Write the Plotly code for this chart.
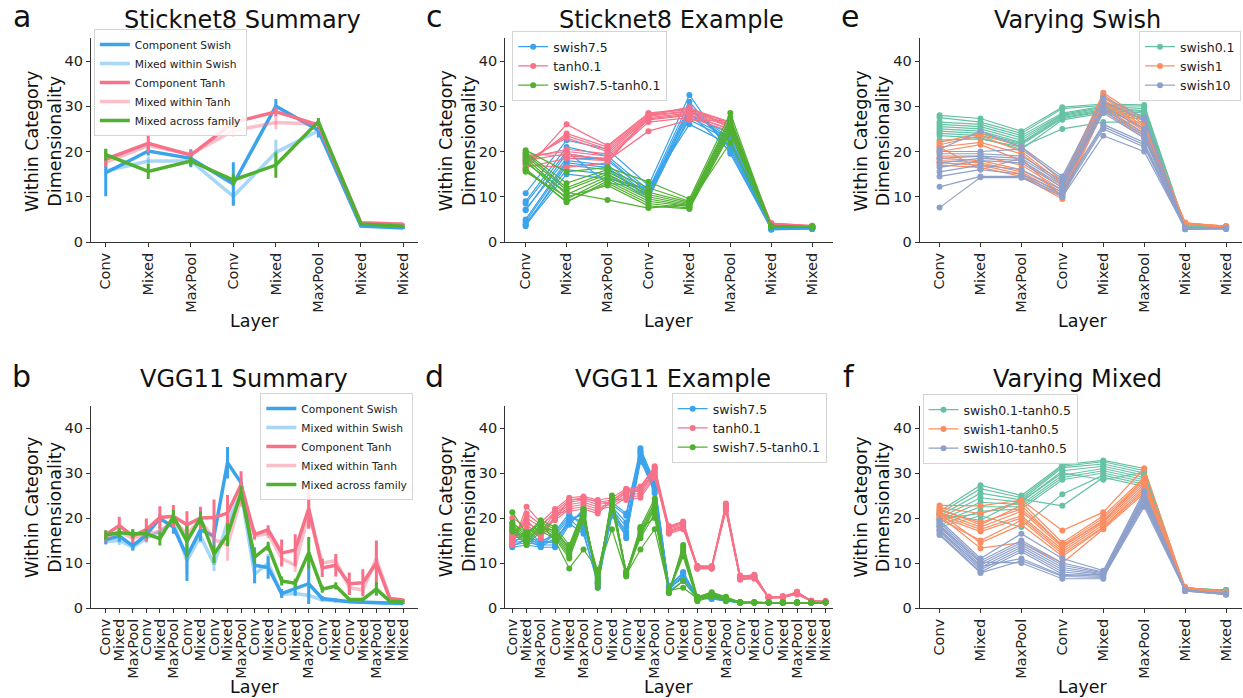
import plotly.graph_objects as go

W, H = 1243, 698          # reference picture size (all positions below are in these pixels)
FIG_H = 706               # figure height compensating for the capture's vertical scaling
FONT = "DejaVu Sans"

# ---------------- categories ----------------
layers_s8 = ["Conv", "Mixed", "MaxPool", "Conv", "Mixed", "MaxPool", "Mixed", "Mixed"]
layers_vgg = ["Conv", "Mixed", "MaxPool", "Conv", "Mixed", "MaxPool", "Conv", "Mixed",
              "Conv", "Mixed", "MaxPool", "Conv", "Mixed", "Conv", "Mixed", "MaxPool",
              "Conv", "Mixed", "Conv", "Mixed", "MaxPool", "Mixed", "Mixed"]

summary_names = ["Component Swish", "Mixed within Swish", "Component Tanh",
                 "Mixed within Tanh", "Mixed across family"]

# ---------------- panel a: Sticknet8 summary (mean, error) ----------------
a_comp_swish = [15.3, 20.1, 18.5, 12.8, 30.0, 24.7, 3.5, 3.1]
a_comp_swish_err = [5.2, 1.0, 2.0, 4.8, 1.6, 1.6, 0.2, 0.2]
a_mix_swish = [15.7, 17.9, 17.9, 10.1, 19.8, 24.6, 3.7, 3.3]
a_mix_swish_err = [1.0, 1.0, 1.0, 2.0, 2.8, 1.0, 0.2, 0.2]
a_comp_tanh = [18.3, 21.8, 19.2, 26.4, 28.8, 25.9, 4.2, 3.9]
a_comp_tanh_err = [1.5, 2.0, 1.0, 1.3, 1.0, 0.5, 0.2, 0.2]
a_mix_tanh = [17.6, 21.3, 19.4, 24.6, 26.4, 26.1, 4.3, 3.9]
a_mix_tanh_err = [1.0, 1.0, 0.5, 1.3, 1.5, 0.5, 0.2, 0.2]
a_mix_across = [19.3, 15.6, 17.9, 13.7, 17.0, 26.6, 4.0, 3.5]
a_mix_across_err = [1.3, 1.7, 1.0, 1.3, 2.8, 0.8, 0.2, 0.2]

# ---------------- panel b: VGG11 summary (mean, error) ----------------
b_comp_swish = [15.2, 16.0, 13.8, 16.3, 19.9, 18.0, 11.5, 17.4, 16.0, 32.3, 27.8, 9.5,
                9.0, 3.2, 4.3, 5.4, 2.1, 1.7, 1.4, 1.3, 1.2, 1.1, 1.0]
b_comp_swish_err = [1.0, 1.2, 1.0, 1.5, 1.0, 1.5, 5.5, 2.5, 2.0, 3.5, 1.0, 4.0,
                    2.5, 1.0, 1.5, 4.5, 0.5, 0.4, 0.3, 0.2, 0.2, 0.1, 0.1]
b_mix_swish = [14.8, 15.0, 13.5, 15.5, 17.0, 19.0, 10.5, 16.0, 9.7, 19.0, 25.5, 7.5,
               10.0, 3.0, 3.2, 2.8, 1.8, 1.6, 1.4, 1.3, 1.2, 1.1, 1.0]
b_mix_swish_err = [0.8, 1.0, 0.8, 1.0, 1.0, 1.0, 3.0, 1.5, 1.5, 3.0, 1.0, 2.0,
                   2.0, 0.6, 0.6, 0.6, 0.3, 0.3, 0.2, 0.2, 0.2, 0.1, 0.1]
b_comp_tanh = [16.3, 18.3, 16.0, 17.4, 20.1, 20.4, 18.5, 20.0, 20.1, 21.1, 27.4, 16.3,
               17.4, 12.2, 12.9, 22.1, 8.9, 9.5, 5.4, 5.6, 10.0, 2.1, 1.8]
b_comp_tanh_err = [1.0, 2.0, 1.5, 2.5, 2.5, 2.5, 3.0, 2.5, 4.0, 4.0, 3.0, 1.0,
                   1.0, 3.0, 3.5, 4.5, 2.0, 2.5, 2.5, 3.0, 5.0, 0.3, 0.2]
b_mix_tanh = [15.5, 17.0, 15.5, 16.5, 17.0, 19.5, 16.5, 19.5, 15.2, 14.0, 24.5, 16.0,
              16.5, 11.0, 9.5, 21.0, 10.0, 10.5, 4.5, 4.0, 11.0, 2.0, 1.7]
b_mix_tanh_err = [1.0, 1.0, 1.0, 1.0, 1.5, 1.5, 2.0, 1.5, 2.0, 3.5, 2.0, 1.0,
                  1.0, 1.5, 1.5, 3.0, 1.0, 1.0, 1.0, 1.0, 3.0, 0.3, 0.2]
b_mix_across = [16.2, 16.7, 16.5, 16.5, 15.4, 20.3, 14.8, 20.0, 12.0, 16.3, 25.6, 11.3,
                13.7, 6.0, 5.5, 12.3, 4.2, 4.9, 1.9, 1.9, 4.2, 1.5, 1.4]
b_mix_across_err = [1.0, 1.0, 1.0, 1.0, 1.5, 1.5, 3.5, 1.5, 2.0, 2.5, 1.5, 1.5,
                    1.0, 1.0, 1.0, 3.5, 0.8, 0.8, 0.4, 0.4, 1.5, 0.2, 0.2]

# ---------------- panel c: Sticknet8 example ----------------
c_swish = [
    [10.8, 22.5, 20.5, 12.5, 32.5, 19.5, 3.0, 3.0],
    [9.0, 21.0, 19.0, 11.5, 31.0, 20.5, 2.8, 3.1],
    [7.0, 19.5, 18.0, 11.0, 30.0, 21.0, 3.1, 2.9],
    [5.0, 18.0, 17.0, 10.5, 29.5, 22.0, 2.9, 3.0],
    [3.5, 17.0, 16.0, 10.0, 29.0, 23.0, 3.0, 3.2],
    [4.0, 16.0, 15.0, 9.5, 28.0, 24.0, 2.7, 2.9],
    [3.8, 15.0, 14.0, 11.8, 27.0, 22.5, 3.2, 3.0],
    [8.5, 20.0, 13.0, 12.0, 26.0, 21.5, 3.0, 3.1],
    [7.2, 18.5, 18.5, 10.8, 28.5, 20.0, 2.8, 2.9],
    [4.5, 17.5, 16.5, 10.0, 27.5, 23.0, 2.9, 3.0],
]
c_tanh = [
    [16.0, 26.0, 21.3, 28.5, 29.5, 26.5, 4.0, 3.5],
    [17.0, 24.0, 21.0, 28.3, 29.3, 26.3, 3.8, 3.4],
    [17.5, 23.5, 20.5, 28.0, 29.0, 26.0, 3.9, 3.5],
    [18.0, 23.0, 20.0, 27.8, 28.8, 25.8, 4.1, 3.6],
    [18.5, 20.5, 19.5, 27.5, 28.5, 25.5, 3.8, 3.4],
    [19.0, 20.0, 19.0, 27.0, 28.0, 25.0, 4.0, 3.5],
    [19.5, 19.0, 18.5, 26.5, 27.5, 24.5, 3.9, 3.4],
    [16.5, 18.5, 18.0, 24.5, 27.0, 26.8, 4.2, 3.6],
    [17.0, 16.5, 17.5, 28.0, 29.8, 25.2, 3.8, 3.5],
    [18.0, 19.5, 18.2, 27.2, 28.2, 24.8, 4.0, 3.4],
]
c_mixed = [
    [20.3, 15.5, 16.5, 13.3, 9.5, 28.5, 3.5, 3.3],
    [19.8, 13.0, 16.0, 12.0, 9.0, 27.5, 3.4, 3.2],
    [19.5, 12.0, 15.5, 11.0, 8.8, 27.0, 3.6, 3.4],
    [19.0, 11.5, 15.0, 10.5, 8.5, 26.5, 3.5, 3.3],
    [18.5, 10.5, 14.5, 10.0, 8.2, 26.0, 3.3, 3.2],
    [18.0, 9.5, 14.0, 9.5, 8.0, 25.5, 3.5, 3.4],
    [16.2, 8.8, 13.5, 9.0, 7.8, 25.0, 3.6, 3.3],
    [15.8, 9.0, 13.0, 8.5, 7.5, 24.5, 3.4, 3.2],
    [15.5, 10.0, 12.5, 8.0, 7.3, 24.0, 3.5, 3.3],
    [17.5, 11.0, 9.3, 7.5, 8.3, 22.0, 3.4, 3.4],
]

# ---------------- panel d: VGG11 example ----------------
d_swish = [
    [13.5, 14.0, 13.5, 13.5, 18.5, 22.0, 4.5, 23.5, 21.0, 35.5, 28.0, 4.5, 8.0, 2.2, 2.0, 1.6, 1.2, 1.2, 1.2, 1.2, 1.2, 1.2, 1.2],
    [14.0, 14.5, 14.0, 14.0, 19.0, 21.5, 5.0, 23.0, 20.5, 35.0, 27.5, 4.0, 7.5, 2.3, 2.2, 1.7, 1.3, 1.2, 1.2, 1.2, 1.2, 1.2, 1.2],
    [14.5, 15.0, 14.5, 15.0, 19.5, 21.0, 5.5, 22.5, 19.0, 34.5, 27.0, 4.2, 7.0, 2.1, 2.4, 1.8, 1.2, 1.3, 1.2, 1.2, 1.2, 1.2, 1.2],
    [15.0, 15.5, 15.0, 16.0, 20.0, 20.5, 6.0, 22.0, 18.0, 34.0, 26.5, 4.8, 6.5, 2.4, 2.1, 1.5, 1.2, 1.2, 1.2, 1.2, 1.2, 1.2, 1.2],
    [15.5, 16.0, 13.8, 16.5, 20.5, 19.0, 6.5, 21.5, 17.0, 33.5, 26.0, 3.8, 6.0, 2.0, 2.3, 1.6, 1.3, 1.2, 1.2, 1.2, 1.2, 1.2, 1.2],
    [16.0, 16.5, 14.2, 17.0, 21.0, 18.0, 7.0, 21.0, 16.5, 33.0, 25.5, 5.0, 7.8, 2.5, 2.5, 1.7, 1.2, 1.2, 1.2, 1.2, 1.2, 1.2, 1.2],
    [14.2, 17.0, 14.8, 14.5, 19.8, 17.0, 5.2, 20.5, 16.0, 32.5, 27.2, 4.4, 7.2, 2.2, 2.0, 1.8, 1.2, 1.2, 1.2, 1.2, 1.2, 1.2, 1.2],
    [13.8, 15.2, 13.6, 15.5, 18.8, 16.5, 5.8, 22.8, 15.5, 34.8, 26.2, 4.6, 6.8, 2.3, 2.2, 1.6, 1.3, 1.2, 1.2, 1.2, 1.2, 1.2, 1.2],
]
d_tanh = [
    [14.0, 22.5, 19.0, 22.0, 24.5, 24.8, 24.0, 24.5, 26.5, 27.0, 31.5, 18.0, 19.0, 9.2, 9.2, 23.0, 7.0, 7.4, 2.4, 2.5, 3.6, 1.6, 1.5],
    [15.0, 20.0, 18.0, 21.5, 24.0, 24.5, 23.5, 24.0, 26.0, 26.5, 31.0, 17.5, 18.5, 9.0, 9.0, 22.5, 6.8, 7.2, 2.3, 2.4, 3.4, 1.5, 1.4],
    [16.0, 19.0, 17.0, 21.0, 23.5, 24.0, 23.0, 23.5, 25.5, 26.0, 30.5, 17.0, 18.0, 8.8, 8.8, 22.0, 6.5, 6.8, 2.2, 2.3, 3.2, 1.6, 1.5],
    [17.0, 18.5, 16.0, 20.5, 23.0, 23.5, 22.5, 23.0, 25.0, 25.5, 30.0, 16.5, 17.5, 9.4, 9.3, 21.5, 6.3, 6.5, 2.5, 2.6, 3.0, 1.5, 1.4],
    [20.0, 18.0, 15.5, 20.0, 22.5, 23.0, 22.0, 22.5, 24.5, 25.0, 29.5, 17.8, 18.8, 8.9, 8.9, 22.8, 7.2, 7.0, 2.3, 2.4, 3.5, 1.6, 1.5],
    [15.5, 17.0, 17.5, 19.5, 22.0, 22.5, 21.5, 24.2, 24.0, 24.5, 29.0, 17.2, 18.2, 9.1, 9.1, 22.2, 6.6, 6.9, 2.4, 2.5, 3.3, 1.5, 1.4],
    [14.5, 21.0, 18.5, 21.0, 21.5, 22.0, 21.0, 23.8, 26.2, 26.8, 31.2, 16.8, 17.8, 8.7, 8.7, 21.8, 6.4, 6.6, 2.2, 2.3, 3.1, 1.6, 1.5],
    [16.5, 19.5, 16.5, 20.0, 24.0, 24.2, 23.8, 23.2, 25.8, 26.2, 30.2, 18.2, 19.2, 9.3, 9.2, 23.2, 7.1, 7.3, 2.5, 2.6, 3.6, 1.5, 1.4],
]
d_mixed = [
    [21.3, 16.5, 19.5, 18.0, 14.0, 22.0, 5.5, 25.0, 7.5, 18.0, 24.3, 3.5, 14.0, 2.5, 3.5, 2.5, 1.3, 1.2, 1.2, 1.2, 1.2, 1.2, 1.2],
    [19.0, 16.0, 19.0, 17.5, 13.0, 21.5, 6.0, 24.5, 7.2, 17.5, 23.5, 3.3, 13.5, 2.2, 3.2, 2.2, 1.2, 1.2, 1.2, 1.2, 1.2, 1.2, 1.2],
    [18.5, 15.5, 18.5, 17.0, 12.5, 21.0, 6.5, 24.0, 7.8, 17.0, 23.0, 3.8, 12.5, 2.0, 3.0, 2.0, 1.3, 1.2, 1.2, 1.2, 1.2, 1.2, 1.2],
    [18.0, 15.0, 18.0, 16.5, 12.0, 20.5, 7.0, 23.5, 8.0, 16.5, 22.5, 4.0, 12.0, 1.8, 2.8, 1.8, 1.2, 1.2, 1.2, 1.2, 1.2, 1.2, 1.2],
    [17.5, 14.5, 17.5, 16.0, 11.5, 20.0, 7.5, 23.0, 7.0, 16.0, 22.0, 3.6, 11.5, 1.5, 2.5, 1.6, 1.3, 1.2, 1.2, 1.2, 1.2, 1.2, 1.2],
    [17.0, 14.0, 17.0, 15.5, 11.0, 19.5, 8.0, 22.0, 8.2, 15.5, 21.0, 3.4, 6.0, 2.4, 3.3, 2.4, 1.2, 1.2, 1.2, 1.2, 1.2, 1.2, 1.2],
    [18.8, 16.8, 18.8, 15.0, 8.8, 13.0, 8.5, 17.5, 7.4, 13.0, 17.5, 3.9, 4.5, 2.1, 2.9, 2.1, 1.3, 1.2, 1.2, 1.2, 1.2, 1.2, 1.2],
    [17.8, 15.2, 17.8, 17.2, 13.5, 21.8, 4.5, 24.2, 7.6, 17.7, 20.0, 3.7, 13.0, 1.9, 2.6, 1.9, 1.2, 1.2, 1.2, 1.2, 1.2, 1.2, 1.2],
]

# ---------------- panel e: varying swish ----------------
e_swish01 = [
    [28.0, 27.3, 24.5, 29.8, 30.5, 30.3, 3.5, 3.2],
    [27.5, 26.5, 24.0, 29.5, 30.2, 30.0, 3.4, 3.1],
    [26.5, 26.0, 23.5, 28.5, 30.0, 29.5, 3.3, 3.3],
    [26.0, 25.5, 23.0, 28.2, 29.8, 29.0, 3.5, 3.2],
    [25.5, 25.0, 22.5, 28.0, 29.5, 28.8, 3.6, 3.1],
    [25.0, 24.5, 22.0, 27.8, 29.2, 28.5, 3.4, 3.2],
    [24.5, 24.0, 21.8, 27.5, 29.0, 28.0, 3.3, 3.3],
    [24.0, 23.5, 21.5, 27.3, 28.8, 27.5, 3.5, 3.1],
    [23.5, 23.0, 20.5, 27.0, 28.5, 27.0, 3.4, 3.2],
    [22.5, 22.8, 21.0, 25.0, 26.5, 26.5, 3.6, 3.2],
]
e_swish1 = [
    [22.0, 24.0, 21.0, 13.5, 33.0, 27.0, 4.2, 3.4],
    [21.5, 23.5, 20.0, 13.0, 32.5, 26.5, 4.0, 3.5],
    [21.0, 22.0, 19.5, 12.5, 32.0, 26.0, 4.3, 3.3],
    [20.0, 21.5, 18.0, 12.0, 31.5, 25.5, 4.1, 3.4],
    [19.0, 19.0, 17.0, 11.5, 31.0, 25.0, 3.9, 3.3],
    [18.5, 18.0, 16.0, 11.0, 30.5, 24.5, 4.2, 3.5],
    [18.0, 17.5, 15.5, 10.5, 30.0, 24.0, 4.0, 3.4],
    [17.5, 17.0, 15.0, 10.0, 29.5, 23.5, 4.1, 3.3],
    [17.0, 16.5, 14.5, 9.5, 29.0, 23.0, 3.9, 3.4],
    [21.0, 16.0, 18.5, 9.8, 31.0, 25.0, 4.2, 3.5],
]
e_swish10 = [
    [20.5, 24.5, 21.0, 14.5, 32.0, 27.5, 3.0, 3.0],
    [20.0, 20.0, 20.5, 14.0, 31.0, 27.0, 2.8, 3.1],
    [19.5, 19.5, 19.0, 13.5, 30.0, 25.0, 3.2, 2.9],
    [18.5, 19.0, 18.5, 13.0, 29.5, 24.0, 2.9, 3.0],
    [17.5, 18.5, 18.0, 12.5, 29.0, 23.5, 3.1, 3.1],
    [16.5, 18.0, 17.5, 12.0, 28.5, 23.0, 2.8, 2.9],
    [15.5, 17.0, 16.0, 11.5, 26.0, 22.0, 3.0, 3.0],
    [14.5, 16.0, 15.0, 11.0, 25.5, 21.5, 3.1, 3.1],
    [12.2, 14.5, 14.5, 10.5, 25.0, 21.0, 2.9, 2.9],
    [7.6, 14.3, 14.2, 10.0, 23.5, 20.0, 3.0, 3.0],
]

# ---------------- panel f: varying mixed ----------------
f_swish01_tanh05 = [
    [21.5, 27.3, 25.0, 31.8, 32.8, 31.0, 4.3, 3.9],
    [21.0, 26.5, 24.5, 31.5, 32.5, 30.5, 4.2, 3.8],
    [20.5, 25.5, 24.0, 31.2, 32.0, 30.0, 4.4, 4.0],
    [20.0, 24.5, 23.5, 30.5, 31.5, 29.5, 4.3, 3.9],
    [19.5, 23.5, 23.0, 29.5, 31.0, 29.0, 4.2, 3.8],
    [19.0, 22.5, 22.5, 29.0, 30.5, 28.5, 4.3, 4.0],
    [18.5, 21.5, 22.0, 28.5, 30.0, 28.0, 4.4, 3.9],
    [18.0, 20.5, 18.0, 25.3, 29.5, 27.5, 4.2, 3.8],
    [20.8, 19.5, 24.2, 22.7, 29.0, 27.0, 4.3, 3.9],
    [19.8, 21.0, 23.7, 30.0, 28.5, 30.2, 4.2, 4.0],
]
f_swish1_tanh05 = [
    [22.8, 22.7, 24.0, 17.2, 21.3, 31.0, 4.5, 3.5],
    [22.3, 21.0, 23.5, 14.5, 20.5, 29.0, 4.6, 3.6],
    [21.8, 19.0, 22.0, 14.0, 20.0, 28.5, 4.4, 3.4],
    [21.3, 18.0, 21.5, 13.5, 19.5, 28.0, 4.5, 3.5],
    [20.8, 17.5, 20.5, 13.0, 19.0, 27.5, 4.6, 3.6],
    [20.3, 17.0, 20.0, 12.5, 18.5, 27.0, 4.4, 3.5],
    [19.8, 15.0, 19.5, 12.0, 18.0, 26.5, 4.5, 3.4],
    [21.0, 14.5, 18.5, 11.5, 17.8, 26.0, 4.6, 3.5],
    [20.5, 13.3, 14.5, 10.0, 17.5, 25.5, 4.5, 3.6],
    [22.0, 18.5, 22.8, 13.8, 19.2, 28.8, 4.4, 3.5],
]
f_swish10_tanh05 = [
    [19.5, 11.0, 16.5, 11.0, 8.3, 26.0, 3.9, 3.1],
    [19.0, 10.5, 15.0, 10.0, 8.0, 25.5, 3.8, 3.0],
    [18.5, 10.0, 14.5, 9.5, 7.8, 25.0, 4.0, 3.2],
    [18.0, 9.5, 14.0, 9.0, 7.6, 24.5, 3.9, 3.1],
    [17.5, 9.0, 13.5, 8.5, 7.4, 24.0, 3.8, 3.0],
    [17.0, 8.5, 13.0, 8.0, 7.2, 23.5, 3.9, 3.2],
    [16.5, 8.0, 12.5, 7.5, 7.0, 23.0, 4.0, 3.1],
    [16.2, 7.8, 10.5, 7.0, 6.8, 22.5, 3.8, 3.0],
    [18.2, 10.2, 10.0, 6.5, 6.5, 24.8, 3.9, 3.1],
    [17.2, 9.2, 11.0, 7.2, 7.5, 23.8, 3.9, 3.0],
]

# ---------------- styling ----------------
BLUE, PINK, GREEN = "#3ba3ec", "#f77189", "#50b131"
BLUE_L, PINK_L = "rgba(59,163,236,0.45)", "rgba(247,113,137,0.45)"
S2_TEAL, S2_ORANGE, S2_LAV = "#66c2a5", "#fc8d62", "#8da0cb"


def px_x(p):
    return p / W


def px_y(p):
    return 1 - p / H


fig = go.Figure()


# axis ids: a -> 1, c -> 2, e -> 3, b -> 4, d -> 5, f -> 6
def axref(i):
    return ("x" if i == 1 else f"x{i}"), ("y" if i == 1 else f"y{i}")


def add_summary(i, series, legend_id):
    xa, ya = axref(i)
    colors = [BLUE, BLUE_L, PINK, PINK_L, GREEN]
    for (name, vals, errs), col in zip(series, colors):
        n = len(vals)
        fig.add_trace(go.Scatter(
            x=list(range(n)), y=vals, mode="lines", name=name,
            line=dict(color=col, width=3.5),
            error_y=dict(type="data", array=errs, visible=True, color=col,
                         thickness=3, width=0),
            xaxis=xa, yaxis=ya, legend=legend_id, showlegend=True))


def add_group(i, lines, name, col, legend_id):
    xa, ya = axref(i)
    for k, vals in enumerate(lines):
        fig.add_trace(go.Scatter(
            x=list(range(len(vals))), y=vals, mode="lines+markers", name=name,
            line=dict(color=col, width=1.2), marker=dict(color=col, size=6),
            xaxis=xa, yaxis=ya, legend=legend_id, showlegend=(k == 0),
            legendgroup=name + str(i)))


add_summary(1, [
    (summary_names[0], a_comp_swish, a_comp_swish_err),
    (summary_names[1], a_mix_swish, a_mix_swish_err),
    (summary_names[2], a_comp_tanh, a_comp_tanh_err),
    (summary_names[3], a_mix_tanh, a_mix_tanh_err),
    (summary_names[4], a_mix_across, a_mix_across_err)], "legend")
add_summary(4, [
    (summary_names[0], b_comp_swish, b_comp_swish_err),
    (summary_names[1], b_mix_swish, b_mix_swish_err),
    (summary_names[2], b_comp_tanh, b_comp_tanh_err),
    (summary_names[3], b_mix_tanh, b_mix_tanh_err),
    (summary_names[4], b_mix_across, b_mix_across_err)], "legend4")

add_group(2, c_swish, "swish7.5", BLUE, "legend2")
add_group(2, c_tanh, "tanh0.1", PINK, "legend2")
add_group(2, c_mixed, "swish7.5-tanh0.1", GREEN, "legend2")

add_group(5, d_swish, "swish7.5", BLUE, "legend5")
add_group(5, d_tanh, "tanh0.1", PINK, "legend5")
add_group(5, d_mixed, "swish7.5-tanh0.1", GREEN, "legend5")

add_group(3, e_swish01, "swish0.1", S2_TEAL, "legend3")
add_group(3, e_swish1, "swish1", S2_ORANGE, "legend3")
add_group(3, e_swish10, "swish10", S2_LAV, "legend3")

add_group(6, f_swish01_tanh05, "swish0.1-tanh0.5", S2_TEAL, "legend6")
add_group(6, f_swish1_tanh05, "swish1-tanh0.5", S2_ORANGE, "legend6")
add_group(6, f_swish10_tanh05, "swish10-tanh0.5", S2_LAV, "legend6")

# ---------------- axes ----------------
TOP = [px_y(242), px_y(38.4)]
BOT = [px_y(608), px_y(405.5)]
COL = [[px_x(90), px_x(418)], [px_x(505), px_x(833)], [px_x(920), 1.0]]

panels = {
    1: dict(col=0, dom=TOP, labels=layers_s8, xr=[-0.35, 7.35]),
    2: dict(col=1, dom=TOP, labels=layers_s8, xr=[-0.5, 7.5]),
    3: dict(col=2, dom=TOP, labels=layers_s8, xr=[-0.49, 7.39]),
    4: dict(col=0, dom=BOT, labels=layers_vgg, xr=[-1.1, 23.1]),
    5: dict(col=1, dom=BOT, labels=layers_vgg, xr=[-0.5, 22.5]),
    6: dict(col=2, dom=BOT, labels=layers_s8, xr=[-0.49, 7.39]),
}

axis_common = dict(showline=True, linecolor="#333", linewidth=1, ticks="outside",
                   ticklen=4, tickwidth=1, tickcolor="#333", showgrid=False,
                   zeroline=False, tickfont=dict(family=FONT, size=14.5, color="#222"))

layout = {}
for i, p in panels.items():
    xa, ya = axref(i)
    xk = "xaxis" if i == 1 else f"xaxis{i}"
    yk = "yaxis" if i == 1 else f"yaxis{i}"
    layout[xk] = dict(axis_common, domain=COL[p["col"]], range=p["xr"], anchor=ya,
                      tickmode="array", tickvals=list(range(len(p["labels"]))),
                      ticktext=p["labels"], tickangle=-90)
    layout[yk] = dict(axis_common, domain=p["dom"], range=[0, 45], anchor=xa,
                      tickmode="array", tickvals=[0, 10, 20, 30, 40])


def leg(x, y, xa, size):
    return dict(x=x, y=y, xanchor=xa, yanchor="top", xref="paper", yref="paper",
                bgcolor="rgba(255,255,255,0.85)", bordercolor="#d4d4d4", borderwidth=1,
                font=dict(family=FONT, size=size, color="#222"), tracegroupgap=0,
                itemwidth=30)


layout["legend"] = leg(px_x(93), px_y(29), "left", 10.7)
layout["legend4"] = leg(px_x(413), px_y(393), "right", 10.7)
layout["legend2"] = leg(px_x(512), px_y(31), "left", 12.5)
layout["legend5"] = leg(px_x(827), px_y(393), "right", 12.5)
layout["legend3"] = leg(px_x(1242), px_y(31), "right", 12.5)
layout["legend6"] = leg(px_x(923), px_y(394), "left", 12.5)

# ---------------- text annotations ----------------
ann = []


def text(x, y, s, size, angle=0):
    ann.append(dict(x=px_x(x), y=px_y(y), xref="paper", yref="paper", text=s,
                    showarrow=False, xanchor="center", yanchor="middle", textangle=angle,
                    font=dict(family=FONT, size=size, color="#111")))


titles = [("Sticknet8 Summary", 242, 20), ("Sticknet8 Example", 672, 20),
          ("Varying Swish", 1078, 20), ("VGG11 Summary", 243, 379),
          ("VGG11 Example", 673, 379), ("Varying Mixed", 1078, 379)]
for s, x, y in titles:
    text(x, y, s, 24)

letters = [("a", 21, 17), ("c", 434, 17), ("e", 850, 17),
           ("b", 21, 376), ("d", 434, 376), ("f", 849, 376)]
for s, x, y in letters:
    text(x, y, s, 30)

for x in (254, 669, 1084):
    text(x, 321, "Layer", 17.5)
    text(x, 687, "Layer", 17.5)

for x in (42, 457, 872):
    text(x, 141, "Within Category<br>Dimensionality", 17.5, -90)
    text(x, 507, "Within Category<br>Dimensionality", 17.5, -90)

fig.update_layout(
    width=W, height=FIG_H, margin=dict(l=0, r=0, t=0, b=0),
    paper_bgcolor="white", plot_bgcolor="white",
    font=dict(family=FONT, color="#222"),
    annotations=ann, **layout)

# remove the browser's default 8px body margin so the figure sits at (0, 0)
fig.write_html("out.html", config={"displayModeBar": False},
               post_script="document.body.style.margin='0px';")
